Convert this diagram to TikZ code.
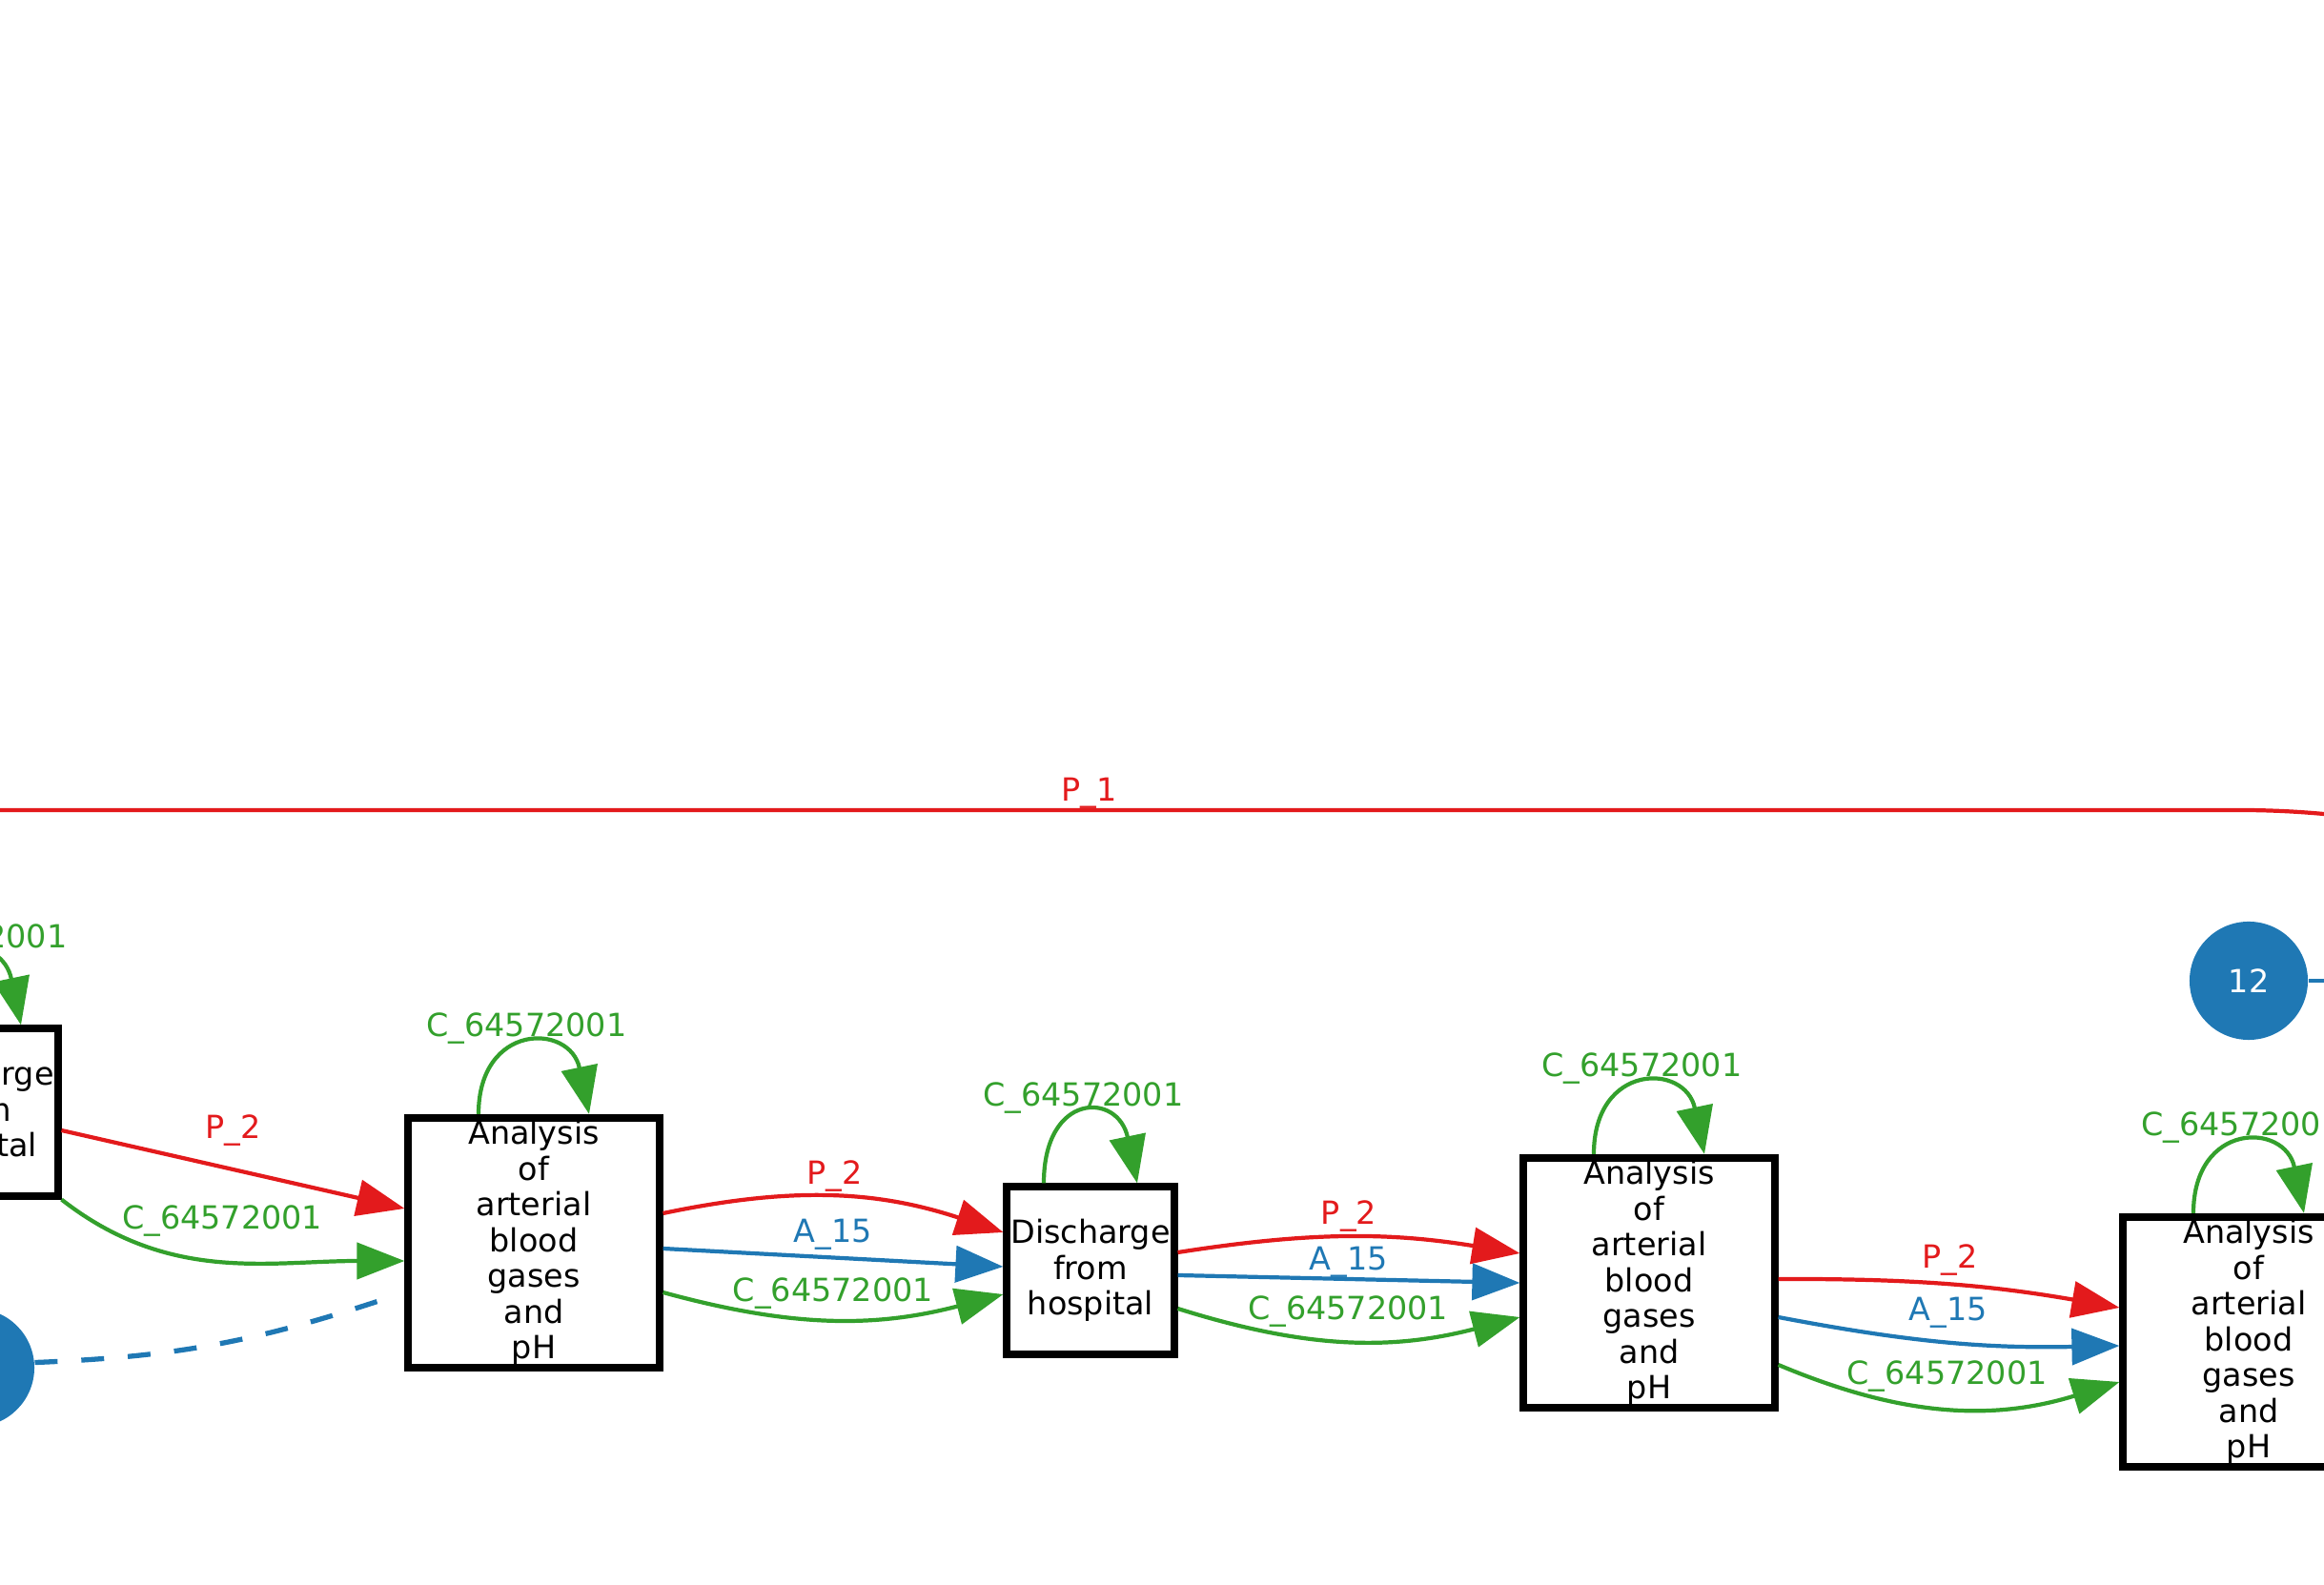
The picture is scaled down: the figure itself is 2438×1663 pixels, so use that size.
\documentclass[tikz,border=0pt]{standalone}
\usepackage{fontspec}
\setmainfont{DejaVu Sans}
\usetikzlibrary{arrows.meta,calc}

\definecolor{cRed}{HTML}{E31A1C}
\definecolor{cGreen}{HTML}{33A02C}
\definecolor{cBlue}{HTML}{1F78B4}

\newcommand{\graphfont}{\fontsize{9.5pt}{10.67pt}\selectfont}

\tikzset{
    analysis/.style={draw, fill=white, line width=0.8mm, minimum width=2.63cm, minimum height=2.62cm,
        inner sep=0pt, align=center, font=\graphfont},
    discharge/.style={analysis, minimum width=1.75cm, minimum height=1.75cm},
    visit/.style={circle, fill=cBlue, minimum size=1.24cm, inner sep=0pt, text=white, font=\graphfont},
    flow/.style={line width=1.2pt, -{Triangle[length=5mm,width=3.8mm]}},
    redflow/.style={flow, cRed},
    blueflow/.style={flow, cBlue},
    greenflow/.style={flow, cGreen},
    lbl/.style={font=\graphfont, inner sep=1pt, above},
}

\begin{document}
\begin{tikzpicture}[x=0.01cm, y=0.01cm]
    \useasboundingbox (0,0) rectangle (2438,1663);
    \clip (0,0) rectangle (2438,1663);

    \node[discharge] (D1) at (-27,496) {Discharge\\from\\hospital};
    \node[analysis] (A1) at (560,359) {Analysis\\of\\arterial\\blood\\gases\\and\\pH};
    \node[discharge] (D2) at (1144,330) {Discharge\\from\\hospital};
    \node[analysis] (A2) at (1730,317) {Analysis\\of\\arterial\\blood\\gases\\and\\pH};
    \node[analysis] (A3) at (2359,255) {Analysis\\of\\arterial\\blood\\gases\\and\\pH};
    \node[visit] (V12) at (2359,634) {12};
    \node[visit] (V0) at (-26,228) {};

    \coordinate (P1a) at (-60,813);
    \coordinate (P1b) at (2350,813);
    \coordinate (V12out) at (2500,634);

    % long edge across the top
    \draw[cRed, line width=1.2pt] (P1a) -- node[lbl, pos=0.499, above=-1pt] {P\_1} (P1b)
        arc[start angle=90, end angle=80, radius=960];
    \draw[cBlue, line width=1.2pt] (V12) -- (V12out);

    % self loops
    \foreach \n/\d in {D1/49,A1/58,D2/49,A2/58,A3/58}
        \draw[greenflow] ($(\n.north)+(-\d,0)$) .. controls +(0,96) and +(-20,96) .. ($(\n.north)+(\d,0)$)
            node[lbl, pos=0.5, above=-1.3pt] {C\_64572001};

    \draw[redflow] ($(D1.east)+(0,-19)$) -- node[lbl, above=5.5pt] {P\_2} ($(A1.west)+(0,36)$);
    \draw[greenflow] (D1.south east) to[out=-38, in=180] node[lbl, above=6pt] {C\_64572001} ($(A1.west)+(0,-19)$);
    \draw[cBlue, line width=1.5pt, dash pattern=on 6.8pt off 7.1pt] (V0.5) to[bend right=8] ($(A1.west)+(-21,-59)$);

    \draw[redflow] ($(A1.east)+(0,31)$) to[bend left=15] node[lbl] {P\_2} ($(D2.west)+(0,40)$);
    \draw[blueflow] ($(A1.east)+(0,-6)$) -- node[lbl, above=0.7pt] {A\_15} ($(D2.west)+(0,4)$);
    \draw[greenflow] ($(A1.east)+(0,-52)$) to[bend right=15] node[lbl, above=1.5pt] {C\_64572001} ($(D2.west)+(0,-25)$);

    \draw[redflow] ($(D2.east)+(0,19)$) to[bend left=9] node[lbl] {P\_2} ($(A2.west)+(0,31)$);
    \draw[blueflow] ($(D2.east)+(0,-5)$) -- node[lbl, above=-1pt] {A\_15} (A2.west);
    \draw[greenflow] ($(D2.east)+(0,-40)$) to[bend right=16] node[lbl, above=2.4pt] {C\_64572001} ($(A2.west)+(0,-36)$);

    \draw[redflow] ($(A2.east)+(0,4)$) to[bend left=5] node[lbl, above=1.2pt] {P\_2} ($(A3.west)+(0,36)$);
    \draw[blueflow] ($(A2.east)+(0,-36)$) to[bend right=6] node[lbl, above=2.4pt] {A\_15} ($(A3.west)+(0,-4)$);
    \draw[greenflow] ($(A2.east)+(0,-86)$) to[bend right=20] node[lbl, above=3.2pt] {C\_64572001} ($(A3.west)+(0,-42)$);
\end{tikzpicture}
\end{document}
